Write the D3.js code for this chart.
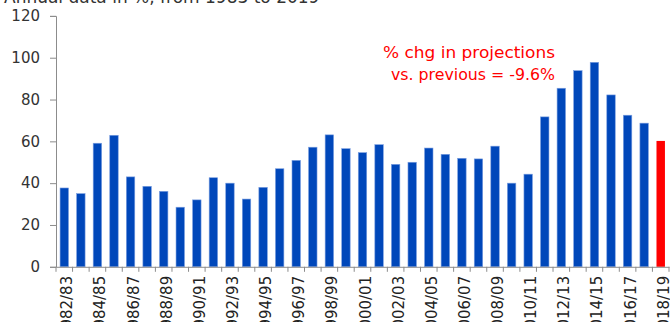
<!DOCTYPE html>
<html><head><meta charset="utf-8">
<script src="https://cdn.jsdelivr.net/npm/d3@7/dist/d3.min.js"></script>
<style>
html,body{margin:0;padding:0;background:#fff;overflow:hidden;}
svg{display:block;}
</style>
</head><body>
<svg id="c" width="670" height="322"></svg>
<script>
const categories = ["1982/83","1983/84","1984/85","1985/86","1986/87","1987/88","1988/89","1989/90","1990/91","1991/92","1992/93","1993/94","1994/95","1995/96","1996/97","1997/98","1998/99","1999/00","2000/01","2001/02","2002/03","2003/04","2004/05","2005/06","2006/07","2007/08","2008/09","2009/10","2010/11","2011/12","2012/13","2013/14","2014/15","2015/16","2016/17","2017/18","2018/19"];
const values = [37.7,35.0,59.1,62.9,43.0,38.5,36.1,28.5,32.0,42.6,40.0,32.4,38.0,46.9,50.9,57.2,63.1,56.5,54.6,58.4,49.0,50.0,56.8,53.8,51.9,51.6,57.7,40.0,44.3,71.7,85.4,93.8,97.8,82.2,72.5,68.7,60.2];
const yTicks = [0,20,40,60,80,100,120];
const titleText = "Annual data in %, from 1983 to 2019";
const noteLines = ["% chg in projections","vs. previous = -9.6%"];

(function(){
const font = "'DejaVu Sans', sans-serif";
const svg = d3.select("#c");
const mLeft = 56, mRight = 669, mTop = 15.9, mBottom = 266.8;

const x = d3.scaleBand().domain(categories).range([mLeft, mRight]).paddingInner(0.49).paddingOuter(0.245);
const y = d3.scaleLinear().domain([0,120]).range([mBottom, mTop]);

svg.append("text").attr("x", 4).attr("y", 3).attr("font-family", font).attr("font-size", 17)
  .attr("fill", "#333").text(titleText);

svg.selectAll("rect.bar").data(values).join("rect").attr("class","bar")
  .attr("x", (d,i) => x(categories[i]))
  .attr("width", x.bandwidth())
  .attr("y", d => y(d))
  .attr("height", d => y(0) - y(d))
  .attr("fill", (d,i) => i === values.length-1 ? "#ff0000" : "#0047ba")
  .attr("stroke", (d,i) => i === values.length-1 ? "none" : "#7a9ee0")
  .attr("stroke-width", 0.6);

const yAxis = svg.append("g").attr("transform", `translate(${mLeft},0)`)
  .call(d3.axisLeft(y).tickValues(yTicks).tickSize(6).tickPadding(10));
yAxis.select(".domain").attr("stroke", "#8c8c8c");
yAxis.selectAll(".tick line").attr("stroke", "#8c8c8c");
yAxis.selectAll(".tick text").attr("font-family", font).attr("font-size", 15).attr("fill", "#333");

const xAxis = svg.append("g").attr("transform", `translate(0,${mBottom})`)
  .call(d3.axisBottom(x).tickValues([]).tickSizeOuter(0));
xAxis.select(".domain").attr("stroke", "#8c8c8c");
const step = x.step();
const bounds = d3.range(categories.length + 1).map(i => mLeft + i * step);
xAxis.selectAll("line.bt").data(bounds).join("line").attr("class","bt")
  .attr("x1", d => d).attr("x2", d => d).attr("y1", 0).attr("y2", 5)
  .attr("stroke", "#8c8c8c");
xAxis.selectAll("text.lbl").data(categories.filter((c,i) => i % 2 === 0)).join("text").attr("class","lbl")
  .attr("transform", d => `translate(${x(d) + x.bandwidth()/2 + 8},${9}) rotate(-90)`)
  .attr("text-anchor", "end")
  .attr("font-family", font).attr("font-size", 15).attr("fill", "#222")
  .text(d => d);

const noteWidths = [172, 164];
svg.selectAll("text.note").data(noteLines).join("text").attr("class","note")
  .attr("x", (d,i) => 555 - noteWidths[i]).attr("y", (d,i) => 58 + i * 22)
  .attr("textLength", (d,i) => noteWidths[i])
  .attr("lengthAdjust", "spacingAndGlyphs")
  .attr("font-family", font).attr("font-size", 16).attr("fill", "#ff0000")
  .text(d => d);
})();
</script>
</body></html>
